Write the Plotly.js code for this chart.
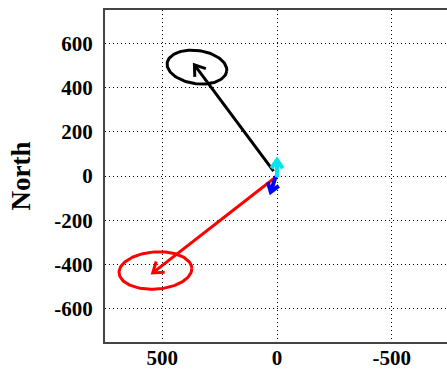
<!DOCTYPE html>
<html>
<head>
<meta charset="utf-8">
<script src="https://cdn.plot.ly/plotly-3.0.1.min.js"></script>
<style>
html,body{margin:0;padding:0;overflow:hidden;background:#fff;}
#chart{width:449px;height:369px;}
</style>
</head>
<body>
<div id="chart"></div>
<script>
// Axis ticks
const xTickVals = [500, 0, -500];
const xTickText = ['500', '0', '-500'];
const yTickVals = [600, 400, 200, 0, -200, -400, -600];
const yTickText = ['600', '400', '200', '0', '-200', '-400', '-600'];
const xRange = [750, -750];
const yRange = [-750, 750];

// Arrows (East = x value, North = y value)
const arrowColors = ['#000000', '#ff0000', '#0000ff', '#00e5ee'];
const arrowTailEast = [15, 12, 5, 0];
const arrowTailNorth = [22, -10, 0, -6];
const arrowTipEast = [360, 542, 27, 0];
const arrowTipNorth = [502, -438, -72, 72];
const arrowWidths = [3, 3, 4, 4];
const arrowHeadLen = [12, 12, 10, 10];

// Error ellipses: centre, semi-axes (x-units, y-units), screen tilt in degrees
const ellipseColors = ['#000000', '#ff0000'];
const ellipseCenterEast = [349, 530];
const ellipseCenterNorth = [492, -427];
const ellipseSemiA = [131, 159];
const ellipseSemiB = [75, 84];
const ellipseTilt = [8, -4];

const W = 449, H = 369;
const margin = {l: 105, r: 0, t: 10, b: 27};
const plotW = W - margin.l - margin.r;
const plotH = H - margin.t - margin.b;
const kx = plotW / Math.abs(xRange[1] - xRange[0]);
const ky = plotH / Math.abs(yRange[1] - yRange[0]);

const traces = [];

// ellipses
for (let i = 0; i < ellipseColors.length; i++) {
  const a = ellipseSemiA[i] * kx, b = ellipseSemiB[i] * ky;
  const th = ellipseTilt[i] * Math.PI / 180;
  const xs = [], ys = [];
  for (let k = 0; k <= 120; k++) {
    const t = 2 * Math.PI * k / 120;
    const dx = a * Math.cos(t) * Math.cos(th) - b * Math.sin(t) * Math.sin(th);
    const dy = a * Math.cos(t) * Math.sin(th) + b * Math.sin(t) * Math.cos(th);
    xs.push(ellipseCenterEast[i] - dx / kx);
    ys.push(ellipseCenterNorth[i] - dy / ky);
  }
  traces.push({x: xs, y: ys, mode: 'lines', line: {color: ellipseColors[i], width: 3}, hoverinfo: 'skip', showlegend: false});
}

// arrows with open V heads
for (let i = 0; i < arrowColors.length; i++) {
  const x0 = arrowTailEast[i], y0 = arrowTailNorth[i];
  const x1 = arrowTipEast[i], y1 = arrowTipNorth[i];
  const sx = -(x1 - x0) * kx, sy = -(y1 - y0) * ky;
  const len = Math.hypot(sx, sy);
  const ux = sx / len, uy = sy / len;
  const L = arrowHeadLen[i], ang = 35 * Math.PI / 180;
  const barb = (s) => {
    const c = Math.cos(s * ang), sn = Math.sin(s * ang);
    const bx = -(ux * c - uy * sn) * L;
    const by = -(ux * sn + uy * c) * L;
    return [x1 - bx / kx, y1 - by / ky];
  };
  const b1 = barb(1), b2 = barb(-1);
  traces.push({
    x: [x0, x1, null, b1[0], x1, b2[0]],
    y: [y0, y1, null, b1[1], y1, b2[1]],
    mode: 'lines', line: {color: arrowColors[i], width: arrowWidths[i]},
    hoverinfo: 'skip', showlegend: false
  });
}

const axisFont = {family: 'Liberation Serif, Times New Roman, serif', size: 21, color: '#000', weight: 'bold'};

const layout = {
  width: W, height: H, margin: margin,
  paper_bgcolor: '#fff', plot_bgcolor: '#fff',
  showlegend: false,
  xaxis: {
    range: xRange, tickvals: xTickVals, ticktext: xTickText,
    showgrid: true, gridcolor: '#000', griddash: '1px,3px', gridwidth: 1,
    zeroline: false, showline: true, linecolor: '#444', linewidth: 2, mirror: true,
    ticks: '', tickfont: axisFont, ticklabelstandoff: -4, fixedrange: true
  },
  yaxis: {
    range: yRange, tickvals: yTickVals, ticktext: yTickText,
    showgrid: true, gridcolor: '#000', griddash: '1px,3px', gridwidth: 1,
    zeroline: false, showline: true, linecolor: '#444', linewidth: 2, mirror: false,
    ticks: '', tickfont: axisFont, ticklabelstandoff: 6, fixedrange: true,
    title: {text: 'North', font: {family: 'Liberation Serif, Times New Roman, serif', size: 27, color: '#000', weight: 'bold'}, standoff: 16}
  }
};

Plotly.newPlot('chart', traces, layout, {staticPlot: true, displayModeBar: false});
</script>
</body>
</html>
